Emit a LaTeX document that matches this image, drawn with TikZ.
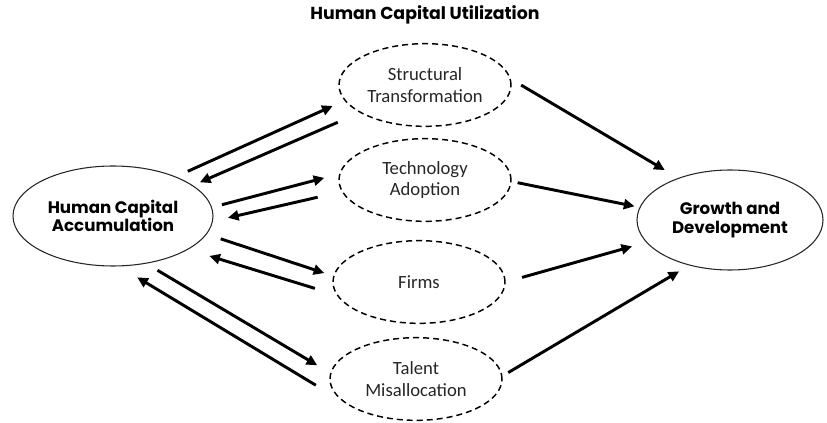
\documentclass[tikz,border=0pt]{standalone}
\usepackage{fontspec}
\setmainfont{Carlito}
\newfontfamily\heavyfont{Poppins}
\usetikzlibrary{arrows.meta,shapes.geometric}

\tikzset{every picture/.style={line width=0.75pt}}
\tikzset{
  bigell/.style={ellipse, draw=black!85, line width=0.8pt, align=center, inner sep=0pt,
    font=\heavyfont\bfseries\fontsize{12.5}{14}\selectfont},
  smallell/.style={ellipse, draw, line width=1.1pt, dash pattern={on 4.5pt off 3pt}, align=center,
    inner sep=0pt, minimum width=129pt, minimum height=62pt, text=black!85,
    font=\fontsize{14}{16}\selectfont},
  link/.style={line width=2.2pt, -{Triangle[length=8pt,width=7.5pt]}},
}

\begin{document}
\begin{tikzpicture}[x=0.75pt,y=0.75pt,yscale=-1,xscale=1]
\useasboundingbox (0,0) rectangle (827,423);

% Text Node
\node [font=\heavyfont\bfseries\fontsize{13}{15}\selectfont] (title) at (425,15) {Human Capital Utilization};

%Shape: Ellipse
\node [bigell, minimum width=150pt, minimum height=75pt] (hca) at (113,216) {Human Capital\\Accumulation};
%Shape: Ellipse
\node [bigell, minimum width=139.5pt, minimum height=75pt] (gd) at (730,220) {Growth and\\Development};
%Shape: Ellipse
\node [smallell] (st) at (425,85) {Structural\\Transformation};
%Shape: Ellipse
\node [smallell] (ta) at (425,180) {Technology\\Adoption};
%Shape: Ellipse
\node [smallell] (fi) at (419,282) {Firms};
%Shape: Ellipse
\node [smallell] (tm) at (416,379) {Talent\\Misallocation};

%Straight Lines
\draw [link, shorten <=9.7pt, shorten >=9.7pt] (hca.32) -- (st.191);
\draw [link, shorten <=18pt, shorten >=5.7pt] (st.203) -- (hca.21);
%Straight Lines
\draw [link, shorten <=7.7pt, shorten >=11.5pt] (hca.5.5) -- (ta.176);
\draw [link, shorten <=18.5pt, shorten >=11.5pt] (ta.188) -- (hca.357);
%Straight Lines
\draw [link, shorten <=11pt, shorten >=7pt] (hca.349) -- (fi.176);
\draw [link, shorten <=17pt, shorten >=16.5pt] (fi.189) -- (hca.336);
%Straight Lines
\draw [link, shorten <=9.7pt, shorten >=11.3pt] (hca.305) -- (tm.176);
\draw [link, shorten <=23.5pt, shorten >=15.8pt] (tm.197) -- (hca.277);

%Straight Lines
\draw [link, shorten <=9pt, shorten >=11.6pt] (st.4) -- (gd.141);
\draw [link, shorten <=4.5pt, shorten >=3.8pt] (ta.359) -- (gd.172);
\draw [link, shorten <=12.7pt, shorten >=11pt] (fi.0) -- (gd.195);
\draw [link, shorten <=5pt, shorten >=8.7pt] (tm.2) -- (gd.228);

\end{tikzpicture}
\end{document}
